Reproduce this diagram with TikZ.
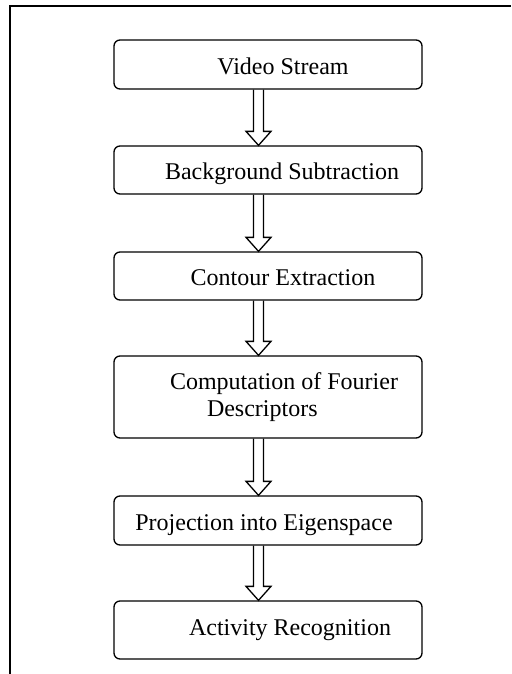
\documentclass[tikz,border=0pt]{standalone}
\usepackage{fontspec}
\setmainfont{Liberation Serif}
\usetikzlibrary{calc}
\tikzstyle{stage}=[draw=black, line width=1.3pt, rounded corners=6pt, minimum width=308pt, inner sep=0pt, font=\fontsize{24}{27}\selectfont]
\tikzstyle{oneline}=[text height=19.5pt, text depth=0pt]
\tikzstyle{hollow}=[draw=black, line width=1.3pt, line join=miter]
\newcommand{\hollowarrow}[2]{%
	\draw[hollow] ($(#1.south)+(-14.5,0)$) -- ($(#2.north)+(-14.5,-14)$) -- ($(#2.north)+(-22,-14)$)
		-- ($(#2.north)+(-9.5,0)$) -- ($(#2.north)+(3,-14)$) -- ($(#2.north)+(-4.5,-14)$) -- ($(#1.south)+(-4.5,0)$);}

\begin{document}
\begin{tikzpicture}[x=1pt, y=-1pt]
				\useasboundingbox (0,0) rectangle (511,674);
				\draw[line width=2pt] (10,674) -- (10,6) -- (511,6);

				\coordinate (S1) at (268, 64.5);
				\coordinate (S2) at (268, 170);
				\coordinate (S3) at (268, 276);
				\coordinate (S4) at (268, 397);
				\coordinate (S5) at (268, 520.5);
				\coordinate (S6) at (268, 630);

				\node[stage, oneline, minimum height=49pt] (stream) at (S1) {\hspace*{30pt}Video Stream};
				\node[stage, oneline, minimum height=48pt] (subtraction) at (S2) {\hspace*{28pt}Background Subtraction};
				\node[stage, oneline, minimum height=48pt] (contour) at (S3) {\hspace*{30pt}Contour Extraction};
				\node[stage, align=left, minimum height=82pt] (fourier) at (S4) {\hspace*{32pt}Computation of Fourier\\\hspace*{69pt}Descriptors};
				\node[stage, oneline, minimum height=49pt] (eigen) at (S5) {Projection into Eigenspace\hspace*{8pt}};
				\node[stage, text height=15pt, text depth=5pt, minimum height=58pt] (recognition) at (S6) {\hspace*{44pt}Activity Recognition};

				\hollowarrow{stream}{subtraction}
				\hollowarrow{subtraction}{contour}
				\hollowarrow{contour}{fourier}
				\hollowarrow{fourier}{eigen}
				\hollowarrow{eigen}{recognition}
\end{tikzpicture}
\end{document}
